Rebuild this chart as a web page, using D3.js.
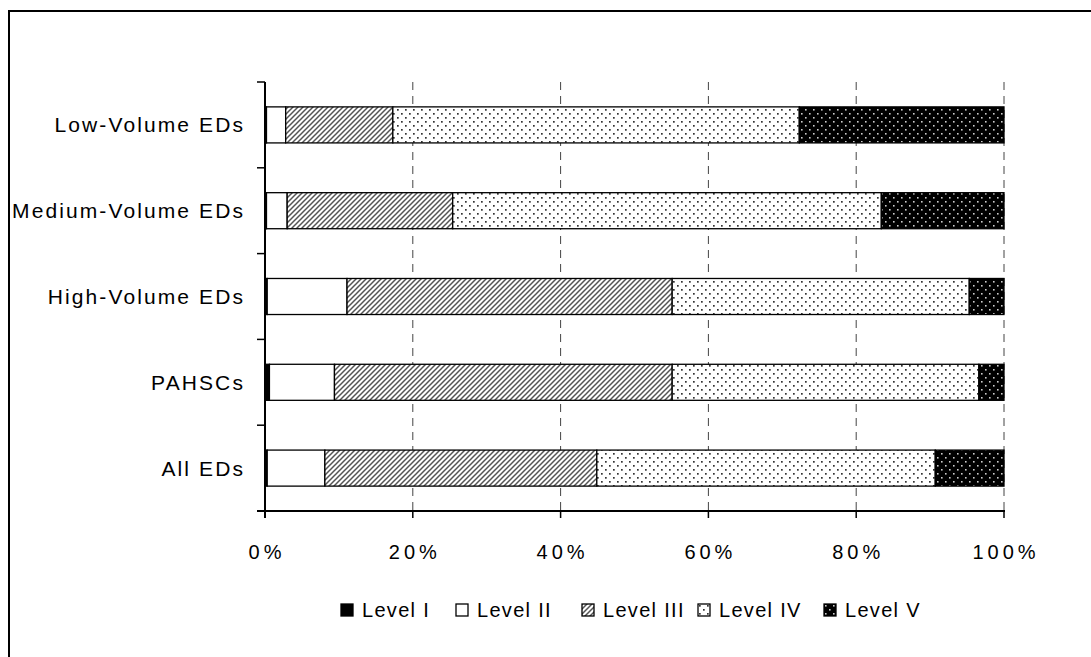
<!DOCTYPE html>
<html><head><meta charset="utf-8">
<script src="https://cdn.jsdelivr.net/npm/d3@7"></script>
<style>body{margin:0;background:#fff}svg{display:block}text{font-family:"Liberation Sans",Arial,sans-serif;fill:#000}</style>
</head><body>
<svg id="c" width="1091" height="657"></svg>
<script>
const categories = ["Low-Volume EDs","Medium-Volume EDs","High-Volume EDs","PAHSCs","All EDs"];
const levels = ["Level I","Level II","Level III","Level IV","Level V"];
const levelI   = [0.2, 0.2, 0.3, 0.6, 0.3];
const levelII  = [2.6, 2.8, 10.8, 8.8, 7.8];
const levelIII = [14.5, 22.4, 44.0, 45.7, 36.8];
const levelIV  = [55.0, 58.0, 40.2, 41.5, 45.8];
const levelV   = [27.7, 16.6, 4.7, 3.4, 9.3];
const xTicks = [0, 20, 40, 60, 80, 100];
const tickLabels = ["0%","20%","40%","60%","80%","100%"];

const svg = d3.select("#c");
const defs = svg.append("defs");
// patterns
const pIII = defs.append("pattern").attr("id","pIII").attr("patternUnits","userSpaceOnUse").attr("width",5).attr("height",5);
pIII.append("rect").attr("width",5).attr("height",5).attr("fill","#fff");
pIII.append("path").attr("d","M-1,6 L6,-1 M-1,1 L1,-1 M4,6 L6,4").attr("stroke","#555").attr("stroke-width",1.5);
const pIV = defs.append("pattern").attr("id","pIV").attr("patternUnits","userSpaceOnUse").attr("width",8).attr("height",8);
pIV.append("rect").attr("width",8).attr("height",8).attr("fill","#fff");
pIV.append("rect").attr("x",1).attr("y",1).attr("width",1.7).attr("height",1.7).attr("fill","#333");
pIV.append("rect").attr("x",5).attr("y",5).attr("width",1.7).attr("height",1.7).attr("fill","#333");
const pV = defs.append("pattern").attr("id","pV").attr("patternUnits","userSpaceOnUse").attr("width",8).attr("height",8);
pV.append("rect").attr("width",8).attr("height",8).attr("fill","#000");
pV.append("rect").attr("x",1).attr("y",1).attr("width",1.6).attr("height",1.6).attr("fill","#ccc");
pV.append("rect").attr("x",5).attr("y",5).attr("width",1.6).attr("height",1.6).attr("fill","#ccc");
const fills = ["#000","#fff","url(#pIII)","url(#pIV)","url(#pV)"];

// border
svg.append("rect").attr("x",9).attr("y",11).attr("width",1200).attr("height",800).attr("fill","none").attr("stroke","#000").attr("stroke-width",2);

const x = d3.scaleLinear().domain([0,100]).range([265,1004]);
const y = d3.scaleBand().domain(categories).range([82,511]).paddingInner(0.58).paddingOuter(0.29);

// gridlines
svg.append("g").selectAll("line").data(xTicks.slice(1)).join("line")
  .attr("x1",d=>x(d)).attr("x2",d=>x(d)).attr("y1",82).attr("y2",511)
  .attr("stroke","#444").attr("stroke-width",1).attr("stroke-dasharray","8,6");

// stacked bars
const rows = categories.map((c,i)=>({cat:c, "Level I":levelI[i],"Level II":levelII[i],"Level III":levelIII[i],"Level IV":levelIV[i],"Level V":levelV[i]}));
const stack = d3.stack().keys(levels)(rows);
svg.append("g").selectAll("g").data(stack).join("g")
  .attr("fill",(d,i)=>fills[i])
  .selectAll("rect").data(d=>d).join("rect")
  .attr("x",d=>x(d[0])).attr("width",d=>x(d[1])-x(d[0]))
  .attr("y",d=>y(d.data.cat)).attr("height",y.bandwidth())
  .attr("stroke","#000").attr("stroke-width",1.3);

// y axis
const yAxis = svg.append("g");
yAxis.append("line").attr("x1",265).attr("x2",265).attr("y1",82).attr("y2",518).attr("stroke","#000").attr("stroke-width",2);
const yt = [0,1,2,3,4,5].map(i=>82+i*(511-82)/5);
yAxis.selectAll("line.t").data(yt).join("line").attr("class","t")
  .attr("x1",257).attr("x2",265).attr("y1",d=>d).attr("y2",d=>d).attr("stroke","#000").attr("stroke-width",1.5);
yAxis.selectAll("text").data(categories).join("text")
  .attr("x",245).attr("y",d=>y(d)+y.bandwidth()/2).attr("dy","0.36em")
  .attr("text-anchor","end").attr("font-size",21).attr("letter-spacing","2.1px").text(d=>d);

// x axis
const xAxis = svg.append("g");
xAxis.append("line").attr("x1",257).attr("x2",1005).attr("y1",511).attr("y2",511).attr("stroke","#000").attr("stroke-width",2);
xAxis.selectAll("line.t").data(xTicks).join("line").attr("class","t")
  .attr("x1",d=>x(d)).attr("x2",d=>x(d)).attr("y1",511).attr("y2",518).attr("stroke","#000").attr("stroke-width",1.5);
xAxis.selectAll("text").data(xTicks).join("text")
  .attr("x",d=>x(d)+2).attr("y",559).attr("text-anchor","middle").attr("font-size",20).attr("letter-spacing","4px")
  .text((d,i)=>tickLabels[i]);

// legend
const legX = [341,456,582,698,824];
const lg = svg.append("g").selectAll("g").data(levels).join("g").attr("transform",(d,i)=>`translate(${legX[i]},604)`);
lg.append("rect").attr("width",12).attr("height",12).attr("fill",(d,i)=>fills[i]).attr("stroke","#000").attr("stroke-width",1.3);
lg.append("text").attr("x",21).attr("y",6).attr("dy","0.36em").attr("font-size",20).attr("letter-spacing","1.3px").text(d=>d);
</script>
</body></html>
